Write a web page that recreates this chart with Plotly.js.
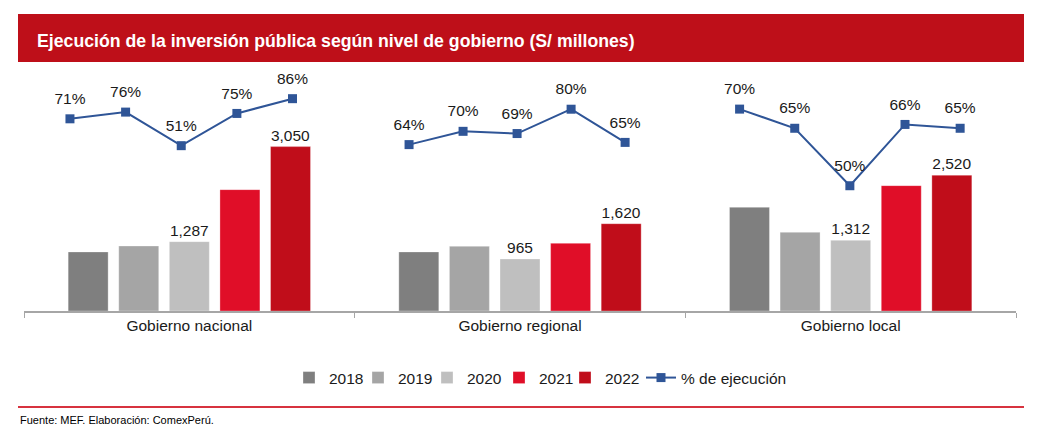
<!DOCTYPE html>
<html><head><meta charset="utf-8">
<script src="https://cdn.plot.ly/plotly-3.0.1.min.js"></script>
<style>html,body{margin:0;padding:0;background:#fff}#chart{width:1042px;height:436px}</style>
</head><body><div id="chart"></div>
<script>
// ---- data ----
const categories = ['Gobierno nacional', 'Gobierno regional', 'Gobierno local'];
const years = ['2018', '2019', '2020', '2021', '2022'];
const nacional = [1096, 1206, 1287, 2252, 3050];
const regional = [1096, 1200, 965, 1256, 1620];
const local = [1924, 1460, 1312, 2326, 2520];
const labeledYears = ['2020', '2022'];
const pctNacional = [71, 76, 51, 75, 86];
const pctRegional = [64, 70, 69, 80, 65];
const pctLocal = [70, 65, 50, 66, 65];
const lineName = '% de ejecución';
const titleText = 'Ejecución de la inversión pública según nivel de gobierno (S/ millones)';
const sourceText = 'Fuente: MEF. Elaboración: ComexPerú.';

// ---- styles ----
const W = 1042, H = 436;
const barColors = ['#7f7f7f', '#a5a5a5', '#bfbfbf', '#e00e28', '#c00d1a'];
const lineColor = '#2f5597';
const FONT = 'Liberation Sans, Arial, sans-serif';
const px = v => v / W;
const py = v => 1 - v / H;
const legendLefts = [289, 358, 427, 499, 565]; // pixel left of each year legend entry
const lineLegendLeft = 641;

const groups = [nacional, regional, local];
const pcts = [pctNacional, pctRegional, pctLocal];
const fmt = v => v.toLocaleString('en-US');
const legId = i => (i === 0 ? 'legend' : 'legend' + (i + 2));

const traces = [];
years.forEach((yr, i) => {
  const vals = groups.map(g => g[i]);
  traces.push({
    type: 'bar', name: yr, x: categories, y: vals,
    marker: {color: barColors[i], line: {color: 'rgba(255,255,255,0.6)', width: 0.5}},
    text: vals.map(v => labeledYears.includes(yr) ? fmt(v) : ''),
    textposition: 'outside', cliponaxis: false,
    textfont: {family: FONT, size: 15.5, color: '#1a1a1a'},
    hoverinfo: 'x+y+name', xaxis: 'x', yaxis: 'y',
    legend: legId(i)
  });
});

// per-panel line axes (each panel in the original has its own secondary scale)
const panelLeft = 24, panelW = (1016 - 24) / 3;
const lineXRanges = [[-0.826, 5.117], [-1.007, 5.115], [-0.984, 5.013]];
const lineYRanges = [[-72.1, 99.9], [-11.2, 93.2], [17.3, 77.6]];
const yDom = [py(311), py(80)];

pcts.forEach((p, k) => {
  const n = k + 2;
  traces.push({
    type: 'scatter', mode: 'lines+markers', name: lineName,
    x: p.map((_, i) => i), y: p,
    line: {color: lineColor, width: 2},
    marker: {symbol: 'square', size: 9, color: lineColor},
    cliponaxis: false,
    showlegend: k === 0, legendgroup: 'pct', legend: 'legend2',
    xaxis: 'x' + n, yaxis: 'y' + n
  });
  // percentage labels (transparent larger marker only to set the text offset)
  traces.push({
    type: 'scatter', mode: 'markers+text', name: lineName,
    x: p.map((_, i) => i), y: p,
    text: p.map(v => v + '%'), textposition: 'top center',
    textfont: {family: FONT, size: 15.5, color: '#1a1a1a'},
    marker: {symbol: 'square', size: 16, color: 'rgba(0,0,0,0)'},
    cliponaxis: false, showlegend: false, hoverinfo: 'skip',
    xaxis: 'x' + n, yaxis: 'y' + n
  });
});

const legFont = {family: FONT, size: 15.5, color: '#1a1a1a'};
const layout = {
  width: W, height: H,
  margin: {l: 0, r: 0, t: 0, b: 0},
  paper_bgcolor: '#fff', plot_bgcolor: 'rgba(0,0,0,0)',
  font: {family: FONT, size: 15.5, color: '#1a1a1a'},
  barmode: 'group', bargap: 0.235, bargroupgap: 0.21,
  showlegend: true,
  legend2: {orientation: 'h', x: px(lineLegendLeft), xanchor: 'left', y: py(378), yanchor: 'middle',
           font: legFont, bgcolor: 'rgba(0,0,0,0)'},
  xaxis: {domain: [px(24), px(1016)], type: 'category', showgrid: false, zeroline: false,
          showline: true, linecolor: '#a6a6a6', linewidth: 1.5,
          ticks: 'outside', tickson: 'boundaries', ticklen: 5, tickcolor: '#a6a6a6', tickwidth: 1,
          tickfont: {family: FONT, size: 15.5, color: '#1a1a1a'}, fixedrange: true},
  yaxis: {domain: yDom, range: [0, 4286], visible: false, fixedrange: true},
  shapes: [
    {type: 'rect', xref: 'paper', yref: 'paper', x0: px(18), x1: px(1024), y0: py(62), y1: py(14),
     fillcolor: '#be0f19', line: {width: 0}, layer: 'below'},
    {type: 'line', xref: 'paper', yref: 'paper', x0: px(18), x1: px(1024), y0: py(407), y1: py(407),
     line: {color: '#d7333f', width: 2}}
  ],
  annotations: [
    {xref: 'paper', yref: 'paper', x: px(35), y: py(41), xanchor: 'left', yanchor: 'middle',
     text: '<b>' + titleText + '</b>', showarrow: false,
     font: {family: 'Liberation Sans Narrow, Arial Narrow, Liberation Sans, Arial, sans-serif', size: 17.7, color: '#fff'}},
    {xref: 'paper', yref: 'paper', x: px(18), y: py(420), xanchor: 'left', yanchor: 'middle',
     text: sourceText, showarrow: false,
     font: {family: FONT, size: 11, color: '#000'}}
  ]
};
years.forEach((yr, i) => {
  layout[legId(i)] = {orientation: 'h', x: px(legendLefts[i]), xanchor: 'left', y: py(378), yanchor: 'middle',
                      font: legFont, bgcolor: 'rgba(0,0,0,0)'};
});

[0, 1, 2].forEach(k => {
  const n = k + 2;
  const x0 = panelLeft + k * panelW, x1 = x0 + panelW;
  layout['xaxis' + n] = {domain: [px(x0), px(x1)], range: lineXRanges[k], anchor: 'y' + n,
                         visible: false, fixedrange: true};
  layout['yaxis' + n] = {domain: yDom, range: lineYRanges[k], anchor: 'x' + n,
                         visible: false, fixedrange: true};
});

Plotly.newPlot('chart', traces, layout, {displayModeBar: false, staticPlot: true});
</script></body></html>
